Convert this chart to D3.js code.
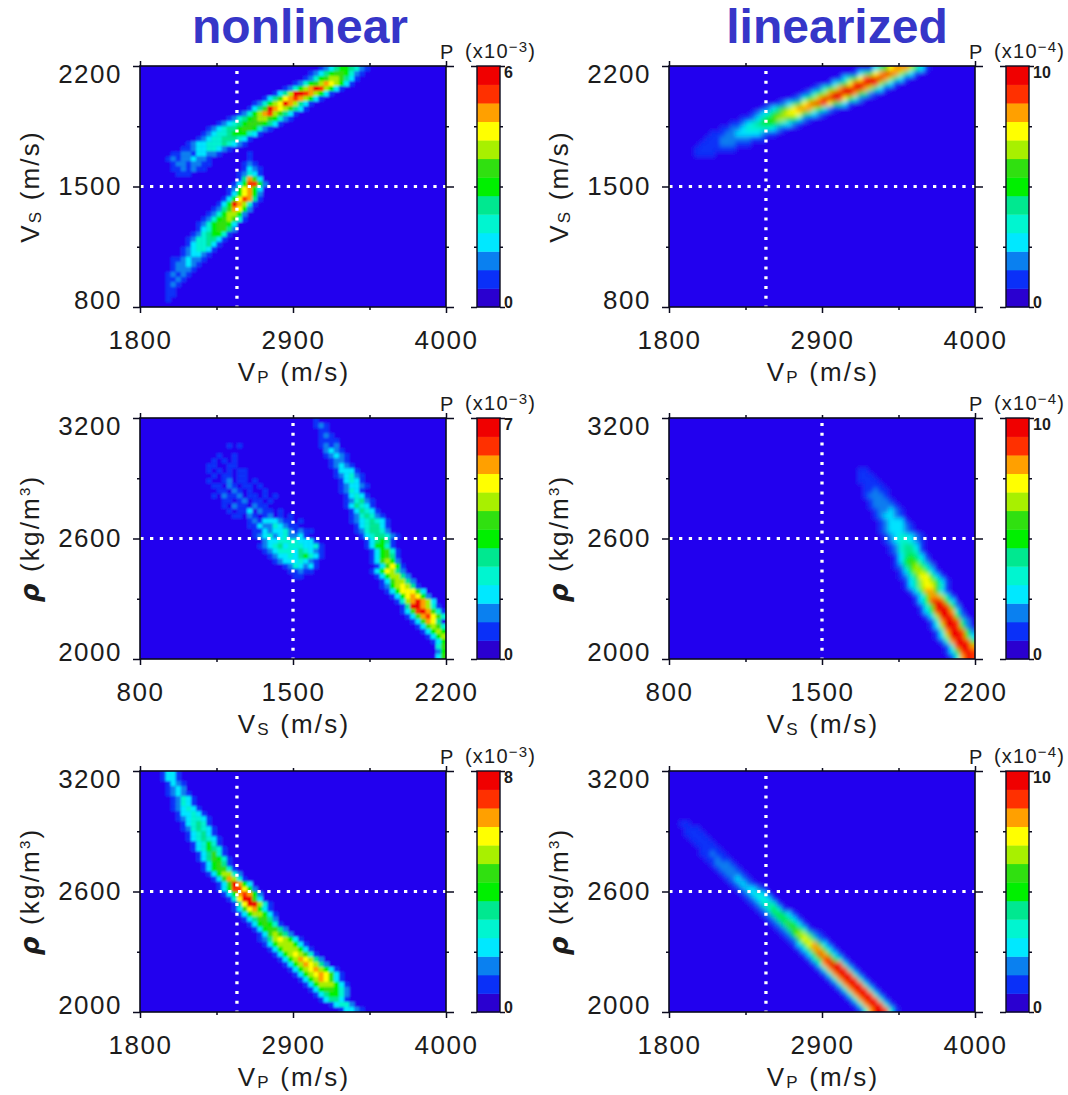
<!DOCTYPE html>
<html>
<head>
<meta charset="utf-8">
<script src="https://cdnjs.cloudflare.com/ajax/libs/d3/7.8.5/d3.min.js"></script>
<style>
  html, body { margin: 0; padding: 0; background: #fff; }
  svg { display: block; }
  text { font-family: "Liberation Sans", sans-serif; fill: #1c1c1c; }
  .domain { display: none; }
  .tick line { stroke: #0a0a1e; stroke-width: 1.5; }
</style>
</head>
<body>
<div id="chart"></div>
<script>
/// data ///
// axis ticks (labelled, then the unlabelled ones between them)
const vpTicks = [1800, 2900, 4000];
const vpMinor = [2350, 3450];
const vsTicks = [800, 1500, 2200];
const vsMinor = [1150, 1850];
const rhoTicks = [2000, 2600, 3200];
const rhoMinor = [2300, 2900];

// true model, marked by the dotted lines
const trueVp = 2497;
const trueVs = 1500;
const trueRho = 2600;

// top of each colour bar, in units of the exponent
const barMaxNonlinear = [6, 7, 8];
const barMaxLinearized = [10, 10, 10];
const barExponentNonlinear = ["3", "3", "3"];
const barExponentLinearized = ["4", "4", "4"];

// colour levels, bottom of the bar to the top
const levelColours = ["#2200ee", "#0a30f8", "#0a80f0", "#00e8ff", "#00f5d0", "#00e890", "#00f000",
  "#30e010", "#a8f000", "#ffff00", "#ffa000", "#ff3000", "#f00000"];

// histogram cells: [row from the top, first column, one hex level per column]
const vpVsNonlinear = [
  [0, 35, "1235665421"], [1, 33, "12356776421"], [2, 32, "12467887531"], [3, 30, "124678a98631"],
  [4, 28, "12468acb8631"], [5, 26, "1358ccba8631"], [6, 24, "13579aba8631"], [7, 22, "124689ca8531"],
  [8, 21, "1357ca987531"], [9, 19, "12468ab87531"], [10, 17, "1245678876421"], [11, 15, "1234567776531"],
  [12, 13, "1234556776421"], [13, 12, "123445666431"], [14, 11, "12344555431"], [15, 9, "123344454321"],
  [16, 8, "1123344321"], [17, 6, "1122133221"], [18, 5, "121223221"], [19, 6, "12212211"], [20, 6, "1121211"],
  [21, 7, "111"],
  [17, 21, "1"], [18, 21, "1"], [19, 20, "121"], [20, 20, "1321"], [21, 19, "12431"],
  [22, 19, "15a73"], [23, 18, "136bb62"], [24, 17, "1269a63"], [25, 17, "1369a62"],
  [26, 16, "1369ba51"], [27, 15, "136ca841"], [28, 14, "1257a962"], [29, 13, "12468862"],
  [30, 12, "124678741"], [31, 11, "12467763"], [32, 11, "13467752"], [33, 10, "12456641"],
  [34, 9, "12445531"], [35, 9, "1344531"], [36, 8, "1234431"], [37, 8, "123321"],
  [38, 6, "1123221"], [39, 6, "122321"], [40, 6, "12221"], [41, 5, "12121"], [42, 5, "1121"],
  [43, 5, "121"], [44, 5, "11"], [45, 5, "11"], [46, 5, "1"]
];
const vsRhoNonlinear = [
  [0, 34, "1"], [1, 34, "121"], [2, 35, "11"], [3, 35, "121"], [4, 35, "1111"], [5, 35, "1212"],
  [6, 36, "2321"], [7, 36, "12321"], [8, 37, "1221"], [9, 37, "12321"], [10, 38, "13331"],
  [11, 38, "123421"], [12, 39, "13431"], [13, 39, "123321"], [14, 39, "12431"], [15, 40, "13431"],
  [16, 40, "124521"], [17, 40, "135431"], [18, 41, "135431"], [19, 41, "1245421"],
  [20, 41, "12345431"], [21, 42, "1345531"], [22, 42, "1245542"], [23, 43, "13455421"],
  [24, 44, "135651"], [25, 44, "136641"], [26, 45, "136741"], [27, 45, "136751"], [28, 45, "137862"],
  [29, 46, "137961"], [30, 45, "1369852"], [31, 46, "1368852"], [32, 47, "1378852"],
  [33, 47, "12689851"], [34, 48, "13699973"], [35, 49, "1369a962"], [36, 50, "148aca83"],
  [37, 51, "15cca841"], [38, 51, "137bca741"], [39, 52, "137ab974"], [40, 53, "137a95"],
  [41, 54, "137874"], [42, 55, "13686"], [43, 56, "1368"], [44, 57, "136"], [45, 58, "47"],
  [46, 58, "26"], [47, 58, "37"],
  [5, 17, "101"], [7, 15, "1001"], [8, 14, "10101"], [9, 13, "1100110"], [10, 13, "10101011"],
  [11, 13, "01011011"], [12, 13, "1001201101"], [13, 14, "1102101101"], [14, 14, "01102101001"],
  [15, 14, "1021120110101"], [16, 15, "01101201101"], [17, 16, "1021102110"], [18, 17, "10113021101"],
  [19, 18, "110210120101"], [20, 21, "12133321101"], [21, 21, "1132243211"], [22, 22, "113233421211"],
  [23, 22, "123423422310"], [24, 24, "233444433310"], [25, 23, "1234534443341"],
  [26, 24, "123444354321"], [27, 25, "12334356431"], [28, 26, "123334321"], [29, 28, "1243231"],
  [30, 29, "11211"], [31, 30, "11"]
];
const vpRhoNonlinear = [
  [0, 4, "1331"], [1, 4, "1331"], [2, 5, "1321"], [3, 5, "1232"], [4, 5, "12321"], [5, 6, "12431"],
  [6, 6, "12431"], [7, 6, "123431"], [8, 7, "133431"], [9, 7, "1234431"], [10, 8, "134541"],
  [11, 8, "1245431"], [12, 9, "134531"], [13, 9, "1345431"], [14, 10, "134641"], [15, 10, "1346541"],
  [16, 11, "135741"], [17, 11, "1357641"], [18, 12, "136751"], [19, 12, "1367741"],
  [20, 13, "1368842"], [21, 14, "137a841"], [22, 15, "137ca63"], [23, 15, "136bb962"],
  [24, 16, "136aba62"], [25, 17, "149cc73"], [26, 18, "159cc841"], [27, 18, "1379a631"],
  [28, 19, "13688631"], [29, 20, "1357752"], [30, 21, "1367641"], [31, 22, "1367752"],
  [32, 23, "1378752"], [33, 23, "125898631"], [34, 24, "136888631"], [35, 25, "136888631"],
  [36, 26, "136898741"], [37, 27, "1368a9852"], [38, 28, "1368a9852"], [39, 29, "13689a8631"],
  [40, 30, "13689a9731"], [41, 31, "1368a9731"], [42, 32, "136888631"], [43, 33, "13677642"],
  [44, 34, "1356642"], [45, 35, "135531"], [46, 37, "13442"], [47, 39, "13321"]
];
const vpVsLinearized = [
  [0, 39, "13579aaa8531"], [1, 36, "13579abba8531"], [2, 33, "13579bccca8531"], [3, 31, "13579bcccb8531"],
  [4, 28, "12468acccca8531"], [5, 26, "12468acccca7521"], [6, 24, "12468acccb9642"],
  [7, 21, "123579abbb97531"], [8, 18, "123578 9aaa86421".replace(" ", "")], [9, 16, "123467899975321"],
  [10, 14, "11235678876421"], [11, 12, "11234566654321"], [12, 10, "1122344444321"],
  [13, 8, "1112233333211"], [14, 7, "111222222111"], [15, 6, "1111222111"], [16, 5, "11111111"], [17, 5, "1111"]
];
const vsRhoLinearized = [
  [10, 37, "11"], [11, 37, "111"], [12, 37, "1111"], [13, 38, "1111"], [14, 38, "11211"],
  [15, 38, "12221"], [16, 39, "12221"], [17, 39, "122221"], [18, 40, "122321"], [19, 40, "123321"],
  [20, 41, "123331"], [21, 41, "1233321"], [22, 41, "1233321"], [23, 42, "12344321"],
  [24, 42, "12344321"], [25, 43, "1245531"], [26, 43, "1245541"], [27, 44, "1356531"],
  [28, 44, "1367642"], [29, 44, "12578642"], [30, 45, "13688631"], [31, 45, "124799631"],
  [32, 46, "135898631"], [33, 46, "135899741"], [34, 47, "136aa731"], [35, 48, "136aa841"],
  [36, 48, "136bcb63"], [37, 49, "147ccb62"], [38, 49, "136bcca41"], [39, 50, "138ccb62"],
  [40, 51, "14accb52"], [41, 51, "138ccb62"], [42, 52, "14accb62"], [43, 52, "138ccb73"],
  [44, 53, "14accb73"], [45, 54, "14bcca6"], [46, 54, "137bcb6"], [47, 55, "14acb8"]
];
const vpRhoLinearized = [
  [10, 2, "11"], [11, 3, "111"], [12, 3, "1111"], [13, 4, "1111"], [14, 5, "1111"], [15, 6, "1111"],
  [16, 6, "11211"], [17, 7, "11211"], [18, 8, "12221"], [19, 9, "12221"], [20, 10, "12221"],
  [21, 11, "12321"], [22, 12, "12321"], [23, 13, "123321"], [24, 14, "123431"], [25, 15, "123431"],
  [26, 16, "124541"], [27, 17, "124641"], [28, 18, "1256531"], [29, 19, "1256531"], [30, 20, "1257631"],
  [31, 21, "1257741"], [32, 22, "12688521"], [33, 23, "12798521"], [34, 24, "1379a731"],
  [35, 25, "137aa731"], [36, 26, "137ba731"], [37, 27, "147bb741"], [38, 28, "14accb41"],
  [39, 29, "14accb41"], [40, 30, "14accb41"], [41, 31, "14accb41"], [42, 32, "14accb41"],
  [43, 33, "14accb41"], [44, 34, "14accb41"], [45, 35, "14accb41"], [46, 36, "14accb41"],
  [47, 37, "14accb41"]
];

/// constants ///
const width = 1068;
const height = 1095;
const plotWidth = 306;
const plotHeight = 241;
const plotLefts = [140, 669];
const plotTops = [66, 418, 771];
const barOffset = 337;   // plot left to colour bar left
const barWidth = 23;
const nCols = 60;
const nRows = 48;
const edgeBleed = 12;    // cells and background run past the frame so the blur stays solid there
const backgroundColour = levelColours[0];
const barBottomColour = "#2a00d0";
const titleColour = "#3636c8";

const vpTitle = { name: "V", sub: "P", unit: " (m/s)" };
const vsTitle = { name: "V", sub: "S", unit: " (m/s)" };

const vpAxis = { ticks: vpTicks, minor: vpMinor, mark: trueVp, title: vpTitle };
const vsAxis = { ticks: vsTicks, minor: vsMinor, mark: trueVs, title: vsTitle };
const rhoAxis = { ticks: rhoTicks, minor: rhoMinor, mark: trueRho, title: null };

const panels = [
  { col: 0, row: 0, cells: vpVsNonlinear, x: vpAxis, y: vsAxis, barMax: barMaxNonlinear[0], exponent: barExponentNonlinear[0] },
  { col: 0, row: 1, cells: vsRhoNonlinear, x: vsAxis, y: rhoAxis, barMax: barMaxNonlinear[1], exponent: barExponentNonlinear[1] },
  { col: 0, row: 2, cells: vpRhoNonlinear, x: vpAxis, y: rhoAxis, barMax: barMaxNonlinear[2], exponent: barExponentNonlinear[2] },
  { col: 1, row: 0, cells: vpVsLinearized, x: vpAxis, y: vsAxis, barMax: barMaxLinearized[0], exponent: barExponentLinearized[0] },
  { col: 1, row: 1, cells: vsRhoLinearized, x: vsAxis, y: rhoAxis, barMax: barMaxLinearized[1], exponent: barExponentLinearized[1] },
  { col: 1, row: 2, cells: vpRhoLinearized, x: vpAxis, y: rhoAxis, barMax: barMaxLinearized[2], exponent: barExponentLinearized[2] }
];

/// scales ///
const colScale = d3.scaleBand().domain(d3.range(nCols)).range([0, plotWidth]);
const rowScale = d3.scaleBand().domain(d3.range(nRows)).range([0, plotHeight]);
const colourScale = d3.scaleOrdinal().domain(d3.range(levelColours.length)).range(levelColours);

const svg = d3.select("#chart").append("svg")
  .attr("width", width)
  .attr("height", height);

// smooths the cells; the linearized panels are smoother than the sampled ones
const defs = svg.append("defs");
[["blurNonlinear", "1 1"], ["blurLinearized", "2.2 2.8"]].forEach(([id, sd]) => {
  defs.append("filter").attr("id", id)
    .attr("filterUnits", "userSpaceOnUse")
    .attr("x", -edgeBleed).attr("y", -edgeBleed)
    .attr("width", plotWidth + 2 * edgeBleed).attr("height", plotHeight + 2 * edgeBleed)
    .append("feGaussianBlur")
    .attr("stdDeviation", sd);
});

/// column titles ///
svg.append("text").attr("x", 300).attr("y", 43).attr("text-anchor", "middle")
  .attr("font-size", 48).attr("font-weight", "bold").style("fill", titleColour).text("nonlinear");
svg.append("text").attr("x", 837).attr("y", 43).attr("text-anchor", "middle")
  .attr("font-size", 48).attr("font-weight", "bold").style("fill", titleColour).text("linearized");

/// panels ///
panels.forEach((p, i) => {
  const g = svg.append("g")
    .attr("transform", `translate(${plotLefts[p.col]}, ${plotTops[p.row]})`);

  const xScale = d3.scaleLinear().domain(d3.extent(p.x.ticks)).range([0, plotWidth]);
  const yScale = d3.scaleLinear().domain(d3.extent(p.y.ticks)).range([plotHeight, 0]);

  // clip to the frame, the blur must not spill over it
  const clipId = `clip${i}`;
  defs.append("clipPath").attr("id", clipId)
    .append("rect").attr("width", plotWidth).attr("height", plotHeight);

  // unpack the rows into one entry per coloured cell
  const cellData = p.cells.flatMap(([row, start, levels]) =>
    Array.from(levels, (ch, k) => ({ row, col: start + k, level: parseInt(ch, 16) }))
  ).filter(d => d.level > 0 && d.col < nCols);

  const image = g.append("g").attr("clip-path", `url(#${clipId})`)
    .append("g").attr("filter", `url(#${p.col === 0 ? "blurNonlinear" : "blurLinearized"})`);

  image.append("rect")
    .attr("x", -edgeBleed).attr("y", -edgeBleed)
    .attr("width", plotWidth + 2 * edgeBleed).attr("height", plotHeight + 2 * edgeBleed)
    .attr("fill", backgroundColour);

  image.selectAll(".cell")
    .data(cellData)
    .join("rect")
    .classed("cell", true)
    .attr("x", d => colScale(d.col))
    .attr("y", d => rowScale(d.row) - (d.row === 0 ? edgeBleed : 0))
    .attr("width", d => colScale.bandwidth() + 0.4 + (d.col === nCols - 1 ? edgeBleed : 0))
    .attr("height", d => rowScale.bandwidth() + 0.4 + (d.row === 0 || d.row === nRows - 1 ? edgeBleed : 0))
    .attr("fill", d => colourScale(d.level));

  // dotted lines at the true model
  g.append("line")
    .attr("x1", xScale(p.x.mark)).attr("x2", xScale(p.x.mark))
    .attr("y1", 0).attr("y2", plotHeight)
    .attr("stroke", "#fff").attr("stroke-width", 3.3)
    .attr("stroke-dasharray", "3 6.77").attr("stroke-dashoffset", -5);
  g.append("line")
    .attr("y1", yScale(p.y.mark)).attr("y2", yScale(p.y.mark))
    .attr("x1", 0).attr("x2", plotWidth)
    .attr("stroke", "#fff").attr("stroke-width", 3)
    .attr("stroke-dasharray", "3.3 6.47").attr("stroke-dashoffset", -10);

  // frame
  g.append("rect")
    .attr("width", plotWidth).attr("height", plotHeight)
    .attr("fill", "none").attr("stroke", "#0a0a1e").attr("stroke-width", 1.6);

  /// axes ///
  // bottom, labelled
  g.append("g").attr("transform", `translate(0, ${plotHeight})`)
    .call(d3.axisBottom(xScale).tickValues(p.x.ticks).tickSize(6).tickPadding(18).tickFormat(d3.format("d")))
    .call(a => a.selectAll("text").attr("font-size", 26).attr("letter-spacing", 1.5));
  g.append("g").attr("transform", `translate(0, ${plotHeight})`)
    .call(d3.axisBottom(xScale).tickValues(p.x.minor).tickSize(3).tickFormat(""));
  // top, no labels
  g.append("g")
    .call(d3.axisTop(xScale).tickValues(p.x.minor.concat(p.x.ticks[1])).tickSize(3).tickFormat(""));
  g.append("g")
    .call(d3.axisTop(xScale).tickValues([p.x.ticks[0], p.x.ticks[2]]).tickSize(5).tickFormat(""));
  // left, labelled; the end labels sit inside the frame height
  g.append("g")
    .call(d3.axisLeft(yScale).tickValues(p.y.ticks).tickSize(7).tickPadding(11).tickFormat(d3.format("d")))
    .call(a => a.selectAll("text").attr("font-size", 26).attr("letter-spacing", 1.5)
      .attr("y", (d, k) => [-7, 0, 8][k]));
  g.append("g")
    .call(d3.axisLeft(yScale).tickValues(p.y.minor).tickSize(3).tickFormat(""));
  // right, no labels
  g.append("g").attr("transform", `translate(${plotWidth}, 0)`)
    .call(d3.axisRight(yScale).tickValues(p.y.ticks).tickSize(8).tickFormat(""));
  g.append("g").attr("transform", `translate(${plotWidth}, 0)`)
    .call(d3.axisRight(yScale).tickValues(p.y.minor).tickSize(3).tickFormat(""));

  /// axis titles ///
  const xTitle = g.append("text")
    .attr("x", plotWidth / 2 + 1).attr("y", plotHeight + 74)
    .attr("text-anchor", "middle").attr("font-size", 26).attr("letter-spacing", 2.2);
  xTitle.append("tspan").text(p.x.title.name);
  xTitle.append("tspan").attr("font-size", 17).attr("dy", 2).text(p.x.title.sub);
  xTitle.append("tspan").attr("dy", -2).text(p.x.title.unit);

  const yTitle = g.append("text")
    .attr("transform", `translate(-101, ${plotHeight / 2}) rotate(-90)`)
    .attr("text-anchor", "middle").attr("font-size", 26).attr("letter-spacing", 2.2);
  if (p.y.title) {
    yTitle.append("tspan").text(p.y.title.name);
    yTitle.append("tspan").attr("font-size", 17).attr("dy", 2).text(p.y.title.sub);
    yTitle.append("tspan").attr("dy", -2).text(p.y.title.unit);
  } else {
    yTitle.append("tspan").attr("font-weight", "bold").attr("font-style", "italic")
      .style("font-family", "'DejaVu Sans'").text("ρ");
    yTitle.append("tspan").text(" (kg/m");
    yTitle.append("tspan").attr("font-size", 15).attr("dy", -9).text("3");
    yTitle.append("tspan").attr("dy", 9).text(")");
  }

  /// colour bar ///
  const bar = g.append("g").attr("transform", `translate(${barOffset}, 0)`);
  const levelBand = d3.scaleBand().domain(d3.range(levelColours.length)).range([plotHeight, 0]);
  const barScale = d3.scaleLinear().domain([0, p.barMax]).range([plotHeight, 0]);

  bar.selectAll("rect")
    .data(levelColours)
    .join("rect")
    .attr("y", (d, k) => levelBand(k))
    .attr("width", barWidth)
    .attr("height", levelBand.bandwidth() + 0.4)
    .attr("fill", (d, k) => k === 0 ? barBottomColour : d);
  bar.append("rect")
    .attr("width", barWidth).attr("height", plotHeight)
    .attr("fill", "none").attr("stroke", "#0a0a1e").attr("stroke-width", 1.4);

  const barEnds = [0, p.barMax];
  const barQuarters = [0.25, 0.5, 0.75].map(f => f * p.barMax);
  bar.append("g")
    .call(d3.axisLeft(barScale).tickValues(barEnds).tickSize(6).tickFormat(""));
  bar.append("g")
    .call(d3.axisLeft(barScale).tickValues(barQuarters).tickSize(3).tickFormat(""));
  bar.append("g").attr("transform", `translate(${barWidth}, 0)`)
    .call(d3.axisRight(barScale).tickValues(barEnds).tickSize(5).tickPadding(-1).tickFormat(d3.format("d")))
    .call(a => a.selectAll("text").attr("font-size", 16).attr("font-weight", "bold")
      .attr("y", (d, k) => [-5, 6][k]));
  bar.append("g").attr("transform", `translate(${barWidth}, 0)`)
    .call(d3.axisRight(barScale).tickValues(barQuarters).tickSize(3).tickFormat(""));

  // P (x10^n) above the bar
  g.append("text").attr("x", barOffset - 37).attr("y", -7)
    .attr("font-size", 20).text("P");
  const scaleLabel = g.append("text").attr("x", barOffset - 12).attr("y", -8)
    .attr("font-size", 20).attr("letter-spacing", 1.2);
  scaleLabel.append("tspan").text("(x10");
  scaleLabel.append("tspan").attr("font-size", 15).attr("dy", -6).text("−" + p.exponent);
  scaleLabel.append("tspan").attr("dy", 6).text(")");
});
</script>
</body>
</html>
